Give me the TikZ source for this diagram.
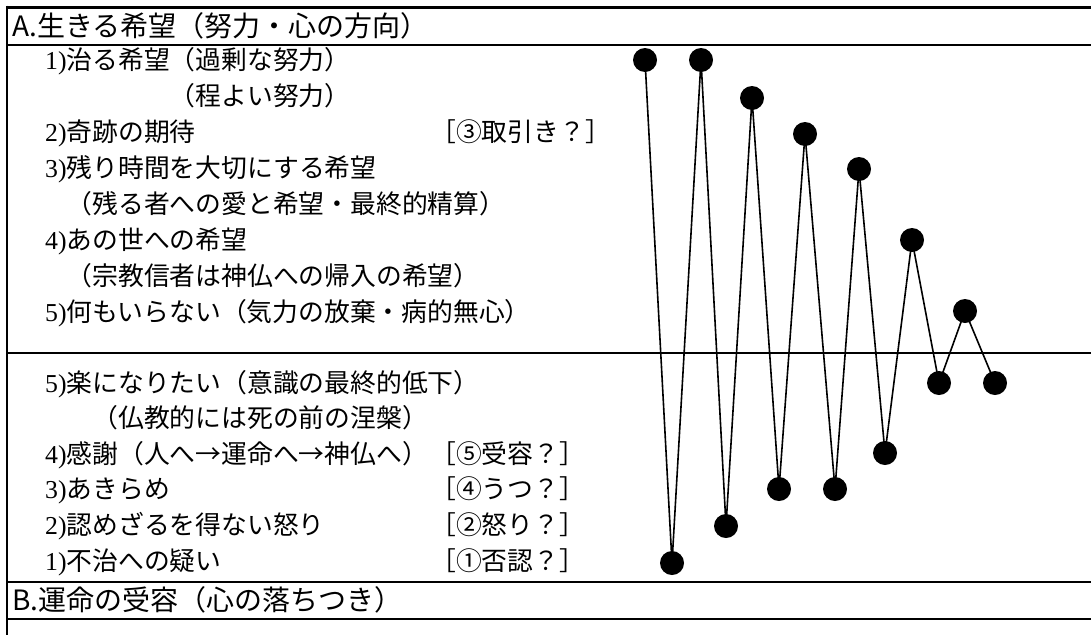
\documentclass[tikz,border=0pt]{standalone}
\usepackage{fontspec}
\setmainfont{Liberation Serif}
\newfontfamily\cjk{Noto Sans CJK JP}
\begin{document}
\begin{tikzpicture}[x=1pt,y=-1pt,
  rowtxt/.style={anchor=base west, inner sep=0pt, font=\cjk\fontsize{25.8}{30}\selectfont},
  hdr/.style={anchor=base west, inner sep=0pt, font=\cjk\fontsize{28}{30}\selectfont},
  dot/.style={circle, fill=black, draw=none, minimum size=24pt, inner sep=0pt},
  zig/.style={line width=1.6pt},
  rulel/.style={line width=2.2pt}]
\useasboundingbox (0,0) rectangle (1091,635);
% table rules
\draw[line width=3pt] (7,7) -- (1091,7);
\draw[rulel] (7,45) -- (1091,45);
\draw[rulel] (7,353) -- (1091,353);
\draw[rulel] (7,582) -- (1091,582);
\draw[rulel] (7,619) -- (1091,619);
\draw[rulel] (7,5.5) -- (7,635);
% headers
\node[hdr] (ha) at (12,36) {A.生きる希望（努力・心の方向）};
\node[hdr] (hb) at (12,610) {B.運命の受容（心の落ちつき）};
% upper rows
\node[rowtxt] (r1) at (45,69.3) {{\rmfamily 1)}治る希望（過剰な努力）};
\node[rowtxt] (r2) at (45,105.3) {\phantom{{\rmfamily 1)}治る希望}（程よい努力）};
\node[rowtxt] (r3) at (45,141.3) {{\rmfamily 2)}奇跡の期待};
\node[rowtxt] (r3b) at (430,141.3) {［③取引き？］};
\node[rowtxt] (r4) at (45,177.3) {{\rmfamily 3)}残り時間を大切にする希望};
\node[rowtxt] (r5) at (45,213.3) {\phantom{{\rmfamily 3)}}（残る者への愛と希望・最終的精算）};
\node[rowtxt] (r6) at (45,249.3) {{\rmfamily 4)}あの世への希望};
\node[rowtxt] (r7) at (45,285.3) {\phantom{{\rmfamily 4)}}（宗教信者は神仏への帰入の希望）};
\node[rowtxt] (r8) at (45,321.3) {{\rmfamily 5)}何もいらない（気力の放棄・病的無心）};
% lower rows
\node[rowtxt] (s1) at (45,392.3) {{\rmfamily 5)}楽になりたい（意識の最終的低下）};
\node[rowtxt] (s2) at (45,427.3) {\phantom{{\rmfamily 5)}楽}（仏教的には死の前の涅槃）};
\node[rowtxt] (s3) at (45,463.3) {{\rmfamily 4)}感謝（人へ→運命へ→神仏へ）};
\node[rowtxt] (s3b) at (430,463.3) {［⑤受容？］};
\node[rowtxt] (s4) at (45,498.3) {{\rmfamily 3)}あきらめ};
\node[rowtxt] (s4b) at (430,498.3) {［④うつ？］};
\node[rowtxt] (s5) at (45,534.3) {{\rmfamily 2)}認めざるを得ない怒り};
\node[rowtxt] (s5b) at (430,534.3) {［②怒り？］};
\node[rowtxt] (s6) at (45,570.3) {{\rmfamily 1)}不治への疑い};
\node[rowtxt] (s6b) at (430,570.3) {［①否認？］};
% dots
\node[dot] (t1) at (645,60) {};
\node[dot] (t2) at (701,60) {};
\node[dot] (t3) at (752,98) {};
\node[dot] (t4) at (805,134) {};
\node[dot] (t5) at (859,169) {};
\node[dot] (t6) at (912,240) {};
\node[dot] (t7) at (965,311) {};
\node[dot] (b1) at (672,563) {};
\node[dot] (b2) at (726,526) {};
\node[dot] (b3) at (779,489) {};
\node[dot] (b4) at (835,489) {};
\node[dot] (b5) at (885,453) {};
\node[dot] (b6) at (939,383) {};
\node[dot] (b7) at (995,383) {};
% zigzag
\draw[zig] (t1.center) -- (b1.center) -- (t2.center) -- (b2.center) -- (t3.center) -- (b3.center) -- (t4.center) -- (b4.center) -- (t5.center) -- (b5.center) -- (t6.center) -- (b6.center) -- (t7.center) -- (b7.center);
\end{tikzpicture}
\end{document}
